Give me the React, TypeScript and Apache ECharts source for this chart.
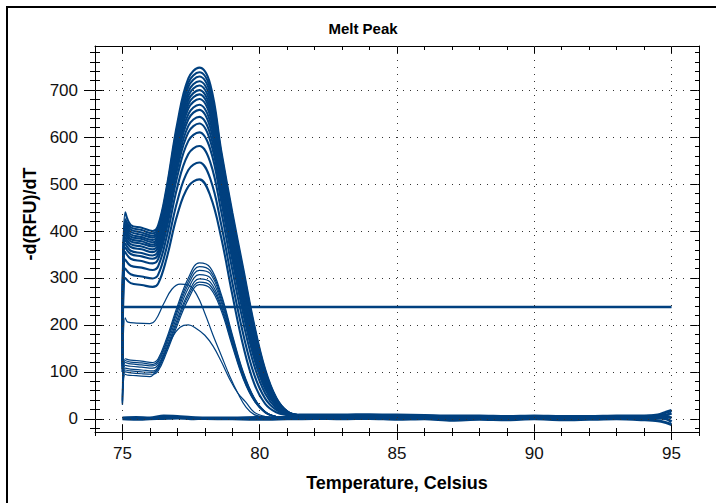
import React, { useEffect, useRef } from "react";
import * as echarts from "echarts";

const FONT = '"Liberation Sans", Arial, sans-serif';
const BLUE = "#00407f";

// Axis ticks / labels
const majorX = [75, 80, 85, 90, 95];
const minorX = [74, 75, 76, 77, 78, 79, 80, 81, 82, 83, 84, 85, 86, 87, 88, 89, 90, 91, 92, 93, 94, 95, 96];
const majorY = [0, 100, 200, 300, 400, 500, 600, 700];
const minorY = [-20, 0, 20, 40, 60, 80, 100, 120, 140, 160, 180, 200, 220, 240, 260, 280, 300, 320, 340, 360, 380, 400, 420, 440, 460, 480, 500, 520, 540, 560, 580, 600, 620, 640, 660, 680, 700, 720, 740, 760, 780];

// Temperature grid for the peak curves
const temps = [75.0, 75.1, 75.3, 75.7, 76.1, 76.3, 76.6, 77.0, 77.4, 77.8, 78.2, 78.6, 79.0, 79.4, 79.8, 80.2, 80.6, 81.0, 81.4];

// Main (high) group of melt curves
const mainCurves = [
  [140, 440, 413, 407, 400, 412, 490, 630, 725, 748, 712, 570, 440, 320, 200, 105, 45, 16, 8],
  [138, 425, 408, 402, 395, 407, 484, 622, 716, 738, 702, 563, 433, 313, 195, 102, 44, 16, 8],
  [137, 420, 403, 397, 390, 402, 478, 614, 707, 729, 692, 555, 426, 307, 190, 99, 43, 15, 8],
  [135, 414, 398, 392, 386, 397, 472, 607, 697, 719, 682, 548, 419, 300, 185, 96, 41, 15, 8],
  [134, 409, 393, 387, 381, 392, 466, 599, 688, 710, 672, 540, 412, 294, 180, 93, 40, 15, 8],
  [132, 404, 388, 383, 376, 387, 460, 591, 679, 700, 662, 533, 405, 287, 175, 90, 39, 14, 8],
  [130, 399, 383, 378, 371, 382, 454, 583, 670, 691, 653, 526, 398, 280, 170, 87, 38, 14, 8],
  [129, 394, 378, 373, 367, 377, 448, 575, 661, 681, 644, 518, 391, 274, 165, 85, 36, 14, 7],
  [127, 387, 372, 367, 361, 371, 441, 566, 649, 669, 632, 509, 382, 266, 159, 81, 35, 13, 7],
  [125, 381, 366, 361, 355, 365, 433, 556, 638, 658, 620, 500, 374, 257, 153, 77, 33, 13, 7],
  [122, 373, 358, 353, 348, 357, 424, 544, 624, 643, 606, 489, 363, 247, 145, 73, 31, 12, 7],
  [120, 365, 351, 346, 341, 350, 415, 533, 610, 629, 592, 478, 353, 238, 138, 69, 30, 12, 7],
  [117, 355, 341, 336, 331, 340, 403, 517, 592, 610, 574, 463, 339, 224, 128, 63, 27, 11, 7],
  [112, 339, 326, 322, 317, 325, 385, 494, 564, 581, 546, 441, 318, 205, 113, 54, 23, 10, 6],
  [106, 320, 308, 303, 299, 307, 363, 464, 530, 546, 511, 413, 291, 180, 94, 43, 19, 9, 6],
  [100, 300, 289, 285, 281, 288, 340, 435, 495, 510, 475, 385, 265, 155, 75, 32, 14, 8, 6],
];

// Lower group of melt curves
const lowerCurves = [
  [40, 128, 125, 123, 120, 128, 170, 240, 300, 332, 322, 265, 180, 100, 45, 15, 5, 4, 3],
  [38, 124, 121, 119, 116, 124, 165, 234, 293, 324, 315, 260, 176, 98, 44, 15, 5, 4, 3],
  [37, 120, 117, 115, 113, 120, 161, 228, 286, 316, 309, 254, 172, 95, 43, 15, 5, 4, 3],
  [35, 114, 112, 110, 108, 115, 155, 220, 278, 307, 300, 248, 168, 92, 42, 14, 5, 4, 3],
  [33, 108, 106, 104, 102, 110, 149, 212, 268, 298, 291, 241, 163, 90, 40, 14, 5, 4, 3],
  [32, 104, 102, 100, 99, 106, 145, 206, 262, 291, 284, 236, 159, 87, 39, 13, 5, 4, 3],
  [30, 100, 98, 96, 95, 102, 140, 200, 255, 286, 278, 230, 155, 85, 38, 13, 5, 4, 3],
];

// Early-peaking curves
const earlyTemps = [75.0, 75.1, 75.2, 75.5, 76.0, 76.2, 76.5, 76.8, 77.1, 77.4, 77.7, 78.0, 78.3, 78.6, 78.9, 79.2, 79.5, 79.8, 80.2, 80.6, 81.4];
const earlyA = [60, 215, 206, 204, 203, 210, 245, 276, 287, 285, 265, 225, 178, 135, 92, 55, 25, 9, 4, 3, 3];
const earlyB = [30, 95, 93, 92, 90, 100, 135, 172, 195, 200, 192, 178, 155, 122, 85, 55, 35, 14, 5, 3, 3];

// Flat (no product) wells
const baseTemps = [75.0, 75.5, 76, 76.5, 77, 77.5, 78, 79, 80, 81, 82, 83, 84, 85, 86, 87, 88, 89, 90, 91, 92, 93, 94, 94.5, 94.8, 95.0];
const baseA = [2, 3, 2, 6, 5, 3, 2, 2, 3, 2, 3, 4, 3, 2, 2, 3, 2, 1, 3, 2, 2, 3, 3, 4, 8, 12];
const baseB = [0, -1, 0, 1, 2, 0, 1, 0, -1, 0, 1, 0, 1, -1, 0, -3, -1, -2, 0, -2, -1, 0, -2, -4, -8, -12];

// Post-melt tails
const tailTemps = [81.4, 82, 83, 84, 85, 86, 87, 88, 89, 90, 91, 92, 93, 94, 94.5, 94.8, 95.0];
const tailA = [8, 8, 8, 9, 8, 7, 6, 6, 5, 6, 5, 5, 6, 6, 8, 14, 18];
const tailB = [6, 6, 6, 7, 6, 6, 4, 3, 4, 4, 4, 4, 4, 5, 6, 5, 2];
const tailC = [3, 3, 4, 4, 3, 3, 2, 3, 2, 3, 2, 2, 3, 2, 2, 0, -6];

// Threshold line
const threshold = 238;
const thresholdRange = [75, 95];

const X_MIN = 74;
const X_MAX = 96;
const Y_MIN = -28;
const Y_MAX = 794;

function pairs(xs: number[], ys: number[]) {
  return xs.map((x, i) => [x, ys[i]]);
}

function lineSeries(xs: number[], ys: number[], width: number, smooth: number | boolean = 0.4) {
  return {
    type: "line",
    data: pairs(xs, ys),
    symbol: "none",
    showSymbol: false,
    smooth,
    silent: true,
    lineStyle: { color: BLUE, width },
    z: 3,
  };
}

function xAx(position: string, ticks: number[], inside: boolean, length: number, extra: any = {}) {
  return {
    type: "value",
    position,
    min: X_MIN,
    max: X_MAX,
    splitLine: { show: false },
    axisLine: { show: false, onZero: false },
    axisLabel: { show: false },
    axisTick: { show: true, customValues: ticks, inside, length, lineStyle: { color: "#000", width: 1 } },
    ...extra,
  };
}

function yAx(position: string, ticks: number[], inside: boolean, length: number, extra: any = {}) {
  return {
    type: "value",
    position,
    min: Y_MIN,
    max: Y_MAX,
    splitLine: { show: false },
    axisLine: { show: false, onZero: false },
    axisLabel: { show: false },
    axisTick: { show: true, customValues: ticks, inside, length, lineStyle: { color: "#000", width: 1 } },
    ...extra,
  };
}

export default function App() {
  const ref = useRef<HTMLDivElement>(null);

  useEffect(() => {
    if (!ref.current) return;
    const chart = echarts.init(ref.current, null, { renderer: "svg" });

    const lineAxis = { show: true, onZero: false, lineStyle: { color: "#000", width: 1 } };

    const series: any[] = [];
    series.push({
      type: "line",
      data: [],
      silent: true,
      z: 1,
      markLine: {
        silent: true,
        symbol: ["none", "none"],
        label: { show: false },
        animation: false,
        lineStyle: { color: "#333", type: [1, 6], width: 1 },
        data: [...majorX.map((v) => ({ xAxis: v })), ...majorY.map((v) => ({ yAxis: v }))],
      },
    });
    series.push(lineSeries(baseTemps, baseA, 3, 0.3));
    series.push(lineSeries(baseTemps, baseB, 3, 0.3));
    series.push(lineSeries(tailTemps, tailA, 3, 0.3));
    series.push(lineSeries(tailTemps, tailB, 3, 0.3));
    series.push(lineSeries(tailTemps, tailC, 3, 0.3));
    mainCurves.forEach((c) => series.push(lineSeries(temps, c, 2.1)));
    lowerCurves.forEach((c) => series.push(lineSeries(temps, c, 1.2)));
    series.push(lineSeries(earlyTemps, earlyA, 1.2));
    series.push(lineSeries(earlyTemps, earlyB, 1.2));
    series.push({
      type: "line",
      data: thresholdRange.map((t) => [t, threshold]),
      symbol: "none",
      silent: true,
      lineStyle: { color: BLUE, width: 2.5 },
      z: 4,
    });

    chart.setOption({
      animation: false,
      backgroundColor: "#fff",
      grid: { left: 95, right: 17, top: 46, bottom: 71, containLabel: false },
      xAxis: [
        xAx("bottom", minorX, true, 4, { axisLine: lineAxis }),
        xAx("bottom", minorX, false, 4),
        xAx("bottom", majorX, true, 8),
        xAx("bottom", majorX, false, 8, {
          axisLabel: {
            show: true,
            customValues: majorX,
            margin: 13,
            color: "#111",
            fontSize: 17,
            fontFamily: FONT,
          },
          name: "Temperature, Celsius",
          nameLocation: "middle",
          nameGap: 42,
          nameTextStyle: { color: "#000", fontSize: 18, fontWeight: "bold", fontFamily: FONT },
        }),
        xAx("top", minorX, true, 4, { axisLine: lineAxis }),
        xAx("top", majorX, true, 8),
      ],
      yAxis: [
        yAx("left", minorY, true, 5, { axisLine: lineAxis }),
        yAx("left", minorY, false, 5),
        yAx("left", majorY, true, 9),
        yAx("left", majorY, false, 11, {
          axisLabel: {
            show: true,
            customValues: majorY,
            margin: 17,
            color: "#111",
            fontSize: 17,
            fontFamily: FONT,
          },
        }),
        yAx("right", minorY, true, 4, { axisLine: lineAxis }),
        yAx("right", majorY, true, 8),
      ],
      graphic: [
        {
          type: "rect",
          silent: true,
          shape: { x: 7, y: 7, width: 730, height: 520 },
          style: { fill: "none", stroke: "#000", lineWidth: 2 },
        },
        {
          type: "text",
          x: 363,
          y: 28,
          style: {
            text: "Melt Peak",
            fill: "#000",
            fontSize: 15,
            fontWeight: "bold",
            fontFamily: FONT,
            align: "center",
            verticalAlign: "middle",
          },
        },
        {
          type: "text",
          x: 30,
          y: 214,
          rotation: Math.PI / 2,
          style: {
            text: "-d(RFU)/dT",
            fill: "#000",
            fontSize: 18,
            fontWeight: "bold",
            fontFamily: FONT,
            align: "center",
            verticalAlign: "middle",
          },
        },
      ],
      series,
    });

    return () => chart.dispose();
  }, []);

  return (
    <div
      ref={ref}
      style={{ position: "absolute", left: 0, top: 0, width: 716, height: 503, background: "#fff" }}
    />
  );
}
